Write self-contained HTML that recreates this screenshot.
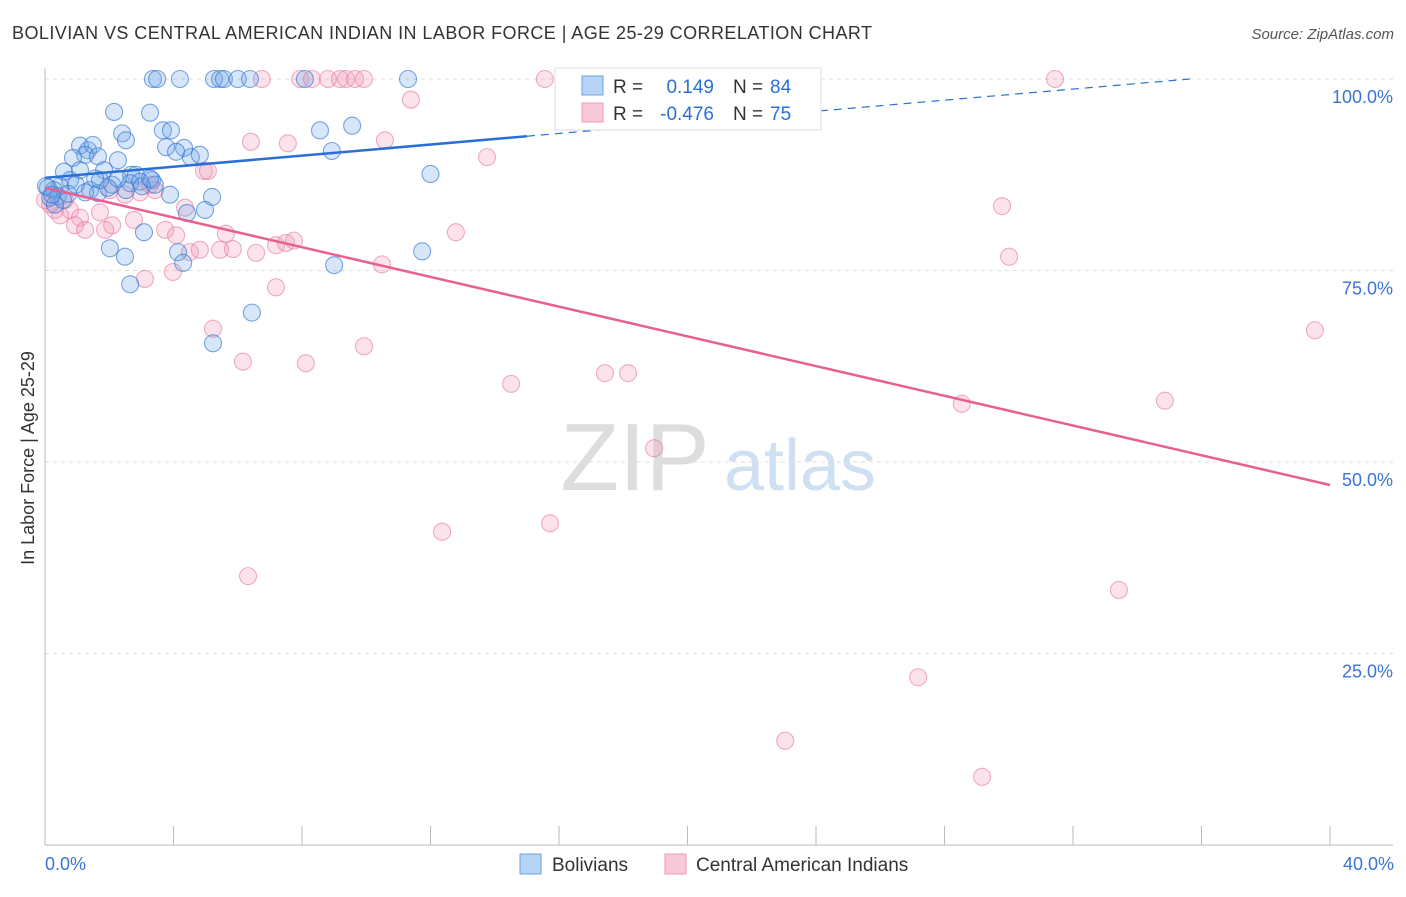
<!DOCTYPE html>
<html><head><meta charset="utf-8"><style>
body{margin:0;background:#fff;font-family:"Liberation Sans",sans-serif;}
svg text{font-family:"Liberation Sans",sans-serif;}
</style></head><body>
<svg id="chart" width="1406" height="892" viewBox="0 0 1406 892" xmlns="http://www.w3.org/2000/svg">
<text x="12" y="39" font-size="18" fill="#333" textLength="860" lengthAdjust="spacing">BOLIVIAN VS CENTRAL AMERICAN INDIAN IN LABOR FORCE | AGE 25-29 CORRELATION CHART</text>
<text x="1394" y="39" font-size="15" fill="#555" text-anchor="end" font-style="italic">Source: ZipAtlas.com</text>
<g>
<text x="635" y="490" font-size="96" fill="#ddd" text-anchor="middle" font-family="Liberation Serif">ZIP</text>
<text x="800" y="490" font-size="72" fill="#cfe0f3" text-anchor="middle">atlas</text>
</g>
<g id="grid"></g>
<g id="axes"></g>
<g id="marks"></g>
<g id="trend"></g>
<text transform="translate(34,458) rotate(-90)" font-size="18" fill="#333" text-anchor="middle">In Labor Force | Age 25-29</text>
<text x="45" y="870" font-size="18" fill="#3a74d4">0.0%</text>
<text x="1394" y="870" font-size="18" fill="#3a74d4" text-anchor="end">40.0%</text>
<g>
<rect x="555" y="68" width="266" height="62" fill="#fff" stroke="#ddd"/>
<rect x="582" y="76" width="21" height="19" fill="#b7d3f5" stroke="#6aa0e4"/>
<rect x="582" y="103" width="21" height="19" fill="#f9c9d8" stroke="#ec9ab6"/>
<text x="613" y="93" font-size="19" fill="#333">R =</text>
<text x="714" y="93" font-size="19" fill="#2a6fd6" text-anchor="end">0.149</text>
<text x="733" y="93" font-size="19" fill="#333">N =</text>
<text x="770" y="93" font-size="19" fill="#2a6fd6">84</text>
<text x="613" y="120" font-size="19" fill="#333">R =</text>
<text x="714" y="120" font-size="19" fill="#2a6fd6" text-anchor="end">-0.476</text>
<text x="733" y="120" font-size="19" fill="#333">N =</text>
<text x="770" y="120" font-size="19" fill="#2a6fd6">75</text>
</g>
<g>
<rect x="520" y="854" width="21" height="20" fill="#b7d3f5" stroke="#6aa0e4"/>
<text x="552" y="871" font-size="19" fill="#333">Bolivians</text>
<rect x="665" y="854" width="21" height="20" fill="#f9c9d8" stroke="#ec9ab6"/>
<text x="696" y="871" font-size="19" fill="#333">Central American Indians</text>
</g>
</svg>
<script>
const yTicks=[100,75,50,25];
const yTickLabels=["100.0%","75.0%","50.0%","25.0%"];
const xTicks=[0,4,8,12,16,20,24,28,32,36,40];
const blueX=[3.36,3.49,4.2,5.26,5.45,5.57,6.0,6.38,8.09,11.3,2.15,3.27,2.4,2.52,3.67,3.92,3.77,4.33,4.08,4.54,4.82,8.56,9.56,8.93,12.0,1.09,1.34,1.49,1.25,0.87,1.65,2.27,0.59,1.09,1.84,2.68,2.83,2.09,2.65,2.96,3.33,3.42,0.78,0.47,0.09,0.28,0.16,0.4,0.72,1.4,1.65,1.96,2.52,3.02,3.89,5.2,4.98,4.42,3.08,2.02,2.49,2.65,4.14,4.3,9.0,11.74,6.44,5.23,1.71,0.96,1.25,0.56,0.31,1.56,2.27,3.27,0.03,0.22];
const blueY=[100,100,100,100,100,100,100,100,100,100,95.7,95.6,92.9,92.0,93.3,93.3,91.1,91.0,90.5,89.8,90.1,93.3,93.9,90.6,87.6,91.3,90.7,91.4,90.1,89.7,89.9,89.4,87.9,88.1,88.1,87.5,87.5,86.2,86.4,86.6,86.8,86.2,86.8,86.0,85.8,85.5,84.5,84.7,85.0,85.5,85.1,85.8,85.5,86.0,84.9,84.6,82.9,82.5,80.0,77.9,76.8,73.2,77.4,76.0,75.7,77.5,69.5,65.5,86.8,86.2,85.2,84.2,83.6,87.0,87.0,87.0,86.0,84.9];
const pinkX=[6.75,7.94,8.31,8.81,9.18,9.37,9.65,9.93,15.56,31.44,11.39,6.41,7.56,10.58,13.76,4.95,5.07,3.27,3.42,2.96,2.49,2.02,0.62,0.31,0.78,0.47,1.09,1.71,0.93,1.25,2.09,1.87,2.77,3.74,4.08,4.36,4.51,4.82,5.45,5.63,5.85,6.57,7.19,7.5,7.75,12.79,10.49,3.98,3.11,7.19,5.23,9.93,6.16,8.12,14.51,17.43,18.15,28.54,34.86,39.53,29.79,30.01,18.96,12.36,15.72,6.32,33.43,27.18,23.04,29.17,0.16,0];
const pinkY=[100,100,100,100,100,100,100,100,100,100,97.3,91.8,91.6,92.0,89.8,88.0,88.0,86.2,85.5,85.2,84.9,85.5,84.2,82.9,82.9,82.2,81.9,82.6,80.9,80.3,80.9,80.3,81.6,80.3,79.6,83.2,77.4,77.7,77.7,79.8,77.8,77.3,78.3,78.6,78.9,80.0,75.8,74.8,73.9,72.8,67.4,65.1,63.1,62.9,60.2,61.6,61.6,57.6,58.0,67.2,83.4,76.8,51.8,40.9,42.0,35.1,33.3,21.9,13.6,8.9,83.6,84.2];
const blueTrend=[87.1,0.362];
const pinkTrend=[85.8,-0.97];

const NS="http://www.w3.org/2000/svg";
const X0=45,X1=1330,Y0=845,Y1=79;
function sx(v){return X0+(v/40)*(X1-X0);}
function sy(v){return Y0-(v/100)*(Y0-Y1);}
function mk(tag,attrs,parent){const e=document.createElementNS(NS,tag);for(const k in attrs)e.setAttribute(k,attrs[k]);parent.appendChild(e);return e;}
const grid=document.getElementById('grid'),axes=document.getElementById('axes'),marks=document.getElementById('marks'),trend=document.getElementById('trend');
yTicks.forEach((t,i)=>{
 const l=mk('line',{x1:X0,x2:1393,y1:sy(t),y2:sy(t),stroke:'#ddd','stroke-dasharray':'4,4'},grid);
 
 
 const tx=mk('text',{x:1393,y:sy(t)+24,'font-size':18,fill:'#3a74d4','text-anchor':'end'},grid);
 tx.textContent=yTickLabels[i];
 
 
});
const ya=mk('line',{x1:X0,x2:X0,y1:68,y2:Y0,stroke:'#bbb'},axes);


const xa=mk('line',{x1:X0,x2:1393,y1:Y0,y2:Y0,stroke:'#bbb'},axes);


xTicks.forEach(t=>{
 const l=mk('line',{x1:sx(t),x2:sx(t),y1:826,y2:Y0,stroke:'#bbb'},axes);
 
 
});
function dots(xs,ys,fill,stroke,name){
 xs.forEach((x,i)=>{
  const c=mk('circle',{cx:sx(x),cy:sy(ys[i]),r:8.5,fill:fill,stroke:stroke,'stroke-width':1.1},marks);
  
  
 });
}
dots(pinkX,pinkY,'rgba(242,150,182,0.28)','rgba(232,120,160,0.6)','central-american-point');
dots(blueX,blueY,'rgba(110,165,230,0.28)','rgba(50,120,210,0.65)','bolivian-point');
const b1=mk('line',{x1:sx(0),y1:sy(blueTrend[0]),x2:sx(15),y2:sy(blueTrend[0]+blueTrend[1]*15),stroke:'#2a6fd6','stroke-width':2.5},trend);


const bEnd=(100-blueTrend[0])/blueTrend[1];
const b2=mk('line',{x1:sx(15),y1:sy(blueTrend[0]+blueTrend[1]*15),x2:sx(bEnd),y2:sy(100),stroke:'#2a6fd6','stroke-width':1.2,'stroke-dasharray':'8,6'},trend);


const p1=mk('line',{x1:sx(0),y1:sy(pinkTrend[0]),x2:sx(40),y2:sy(pinkTrend[0]+pinkTrend[1]*40),stroke:'#e8608f','stroke-width':2.5},trend);


</script>
</body></html>
